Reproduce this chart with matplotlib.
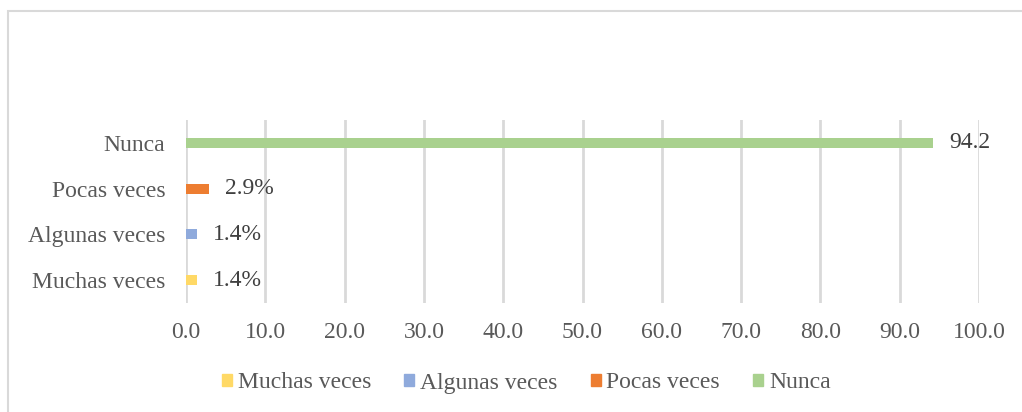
import matplotlib.pyplot as plt
from matplotlib.patches import Rectangle, Patch

categorias = ["Muchas veces", "Algunas veces", "Pocas veces", "Nunca"]
valores = [1.4, 1.4, 2.9, 94.2]
etiquetas = ["1.4%", "1.4%", "2.9%", "94.2"]
colores = ["#FFD966", "#8FAADC", "#ED7D31", "#A9D18E"]
ticks_x = [0, 10, 20, 30, 40, 50, 60, 70, 80, 90, 100]

plt.rcParams["font.family"] = ["Liberation Serif", "DejaVu Serif"]

fig = plt.figure(figsize=(10.22, 4.12), dpi=100)
ax = fig.add_axes([186 / 1022, 1 - 303 / 412, (979 - 186) / 1022, (303 - 120) / 412])

# one bar per category, each in its own colour
for i, (cat, v) in enumerate(zip(categorias, valores)):
    ax.barh(i, v, height=0.22, color=colores[i], zorder=3)
    ax.text(v + 2.0, i, etiquetas[i], va="center", ha="left", fontsize=17, color="#404040")

ax.set_xlim(0, 100)
ax.set_ylim(-0.5, 3.5)
ax.set_xticks(ticks_x)
ax.set_xticklabels([f"{t:.1f}" for t in ticks_x], fontsize=17, color="#595959")
ax.set_yticks(range(len(categorias)))
ax.set_yticklabels(categorias, fontsize=17, color="#595959")
ax.tick_params(length=0, pad=14)
ax.tick_params(axis="y", pad=15)
ax.grid(axis="x", color="#D9D9D9", linewidth=2, zorder=0)
for s in ax.spines.values():
    s.set_visible(False)

handles = [Patch(color=c, label=l) for c, l in zip(colores, categorias)]
fig.legend(handles=handles, loc="center", bbox_to_anchor=(0.515, 1 - 383 / 412), ncol=4,
           frameon=False, fontsize=17, handlelength=0.42, handleheight=0.42,
           handletextpad=0.25, columnspacing=1.4, labelcolor="#595959")

# light frame round the chart (right and bottom edges fall outside the image)
fig.patches.append(Rectangle((8 / 1022, -10 / 412), 1030 / 1022, 411 / 412, transform=fig.transFigure,
                             fill=False, edgecolor="#D9D9D9", linewidth=1.5))

fig.savefig("out.png", dpi=100)
